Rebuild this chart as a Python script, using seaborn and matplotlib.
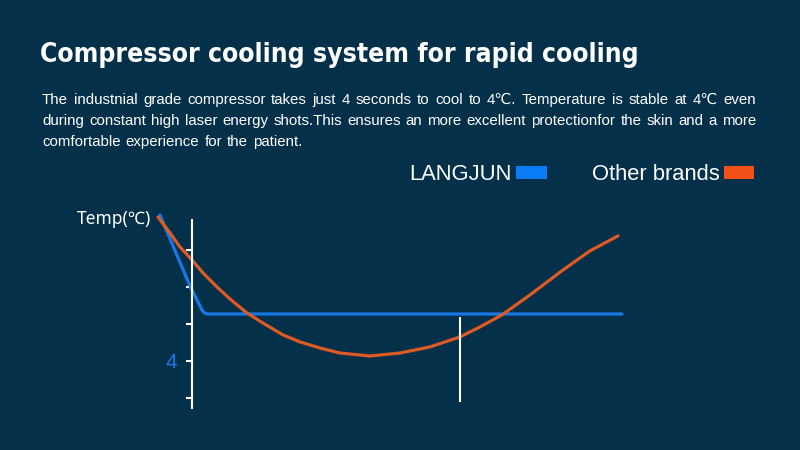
import matplotlib
matplotlib.use("Agg")
import matplotlib.pyplot as plt
from matplotlib import font_manager
from matplotlib.patches import Patch
import seaborn as sns
import pandas as pd

# chart values (time in s, temperature in degC)
blue_time = [-1.6, -0.1, 0.5, 0.6, 0.75, 21.5]
blue_temp = [11.89, 8.05, 6.76, 6.62, 6.54, 6.54]

orange_time = [-1.7, -1.1, -0.6, 0.0, 0.55, 1.25, 1.9, 2.75, 3.55, 4.55, 5.4, 6.4,
               7.4, 8.9, 10.4, 11.9, 13.4, 14.4, 15.5, 16.9, 18.55, 19.9, 21.3]
orange_temp = [11.78, 10.92, 10.16, 9.46, 8.76, 8.0, 7.35, 6.59, 6.05, 5.41, 5.03, 4.70,
               4.43, 4.27, 4.43, 4.76, 5.30, 5.84, 6.49, 7.57, 8.92, 9.95, 10.76]

temp_ticks = [2, 4, 6, 8, 10]
temp_tick_labels = ["", "4", "", "", ""]
marker_time = 13.4
marker_range = [1.78, 6.38]

series_names = ["LANGJUN", "Other brands"]
title = "Compressor cooling system for rapid cooling"
body_lines = [
    "The industnial grade compressor takes just 4 seconds to cool to 4\u2103. Temperature is stable at 4\u2103 even",
    "during constant high laser energy shots.This ensures an more excellent protectionfor the skin and a more",
    "comfortable experience for the patient.",
]

BG = "#04304a"
BLUE = "#1878e8"
ORANGE = "#de5a24"

installed = {f.name for f in font_manager.fontManager.ttflist}
narrow = "Liberation Sans Narrow" if "Liberation Sans Narrow" in installed else "Liberation Sans"

sns.set_style("white")
plt.rcParams["font.family"] = ["Liberation Sans", "DejaVu Sans"]

W, H = 800, 450
fig = plt.figure(figsize=(8, 4.5), dpi=100, facecolor=BG)
ax = fig.add_axes([140 / W, 1 - 420 / H, 500 / W, 220 / H])
ax.set_facecolor(BG)

df = pd.concat([
    pd.DataFrame({"time": blue_time, "temp": blue_temp, "brand": series_names[0]}),
    pd.DataFrame({"time": orange_time, "temp": orange_temp, "brand": series_names[1]}),
])
sns.lineplot(data=df, x="time", y="temp", hue="brand", sort=False, estimator=None,
             palette=[BLUE, ORANGE], linewidth=2.3, legend=False, ax=ax)
for line in ax.get_lines():
    line.set_solid_joinstyle("round")
    line.set_solid_capstyle("round")
ax.vlines(marker_time, *marker_range, color="white", linewidth=1.5)

ax.set_xlim(-2.6, 22.4)
ax.set_ylim(0.81, 12.70)
for s in ["top", "right", "bottom"]:
    ax.spines[s].set_visible(False)
ax.spines["left"].set_position(("data", 0))
ax.spines["left"].set_bounds(1.46, 11.6)
ax.spines["left"].set_color("white")
ax.spines["left"].set_linewidth(1.5)
ax.set_xticks([])
ax.set_yticks(temp_ticks)
ax.set_yticklabels(temp_tick_labels)
ax.tick_params(axis="y", direction="out", length=4.5, width=1.5, color="white",
               pad=6, labelsize=15, labelcolor=BLUE, left=True)
ax.set_xlabel("")
ax.set_ylabel("")

fig.text(77 / W, 1 - 219 / H, "Temp(\u2103)", color="white", fontsize=12.5,
         ha="left", va="center", family=["Noto Sans", "DejaVu Sans"])

# title, fitted to the reference width
t = fig.text(40 / W, 1 - 62 / H, title, color="white", fontsize=20, fontweight="bold",
             ha="left", va="baseline", family=["DejaVu Sans", "Liberation Sans"],
             fontstretch="condensed")
fig.canvas.draw()
renderer = fig.canvas.get_renderer()
tw = t.get_window_extent(renderer).width
t.set_fontsize(20 * 598 / tw)


def justify(line, y, x0, x1, gap=None):
    words = line.split()
    texts = [fig.text(0, 1 - y / H, w, color="white", fontsize=10.8, va="baseline",
                      family=[narrow, "DejaVu Sans"]) for w in words]
    widths = [tx.get_window_extent(renderer).width for tx in texts]
    if gap is None:
        gap = (x1 - x0 - sum(widths)) / (len(words) - 1)
    x = x0
    for tx, w in zip(texts, widths):
        tx.set_x(x / W)
        x += w + gap
    return gap


g1 = justify(body_lines[0], 104, 42, 756)
g2 = justify(body_lines[1], 125, 42, 756)
justify(body_lines[2], 146, 42, 756, gap=g2)

handles = [Patch(facecolor="#0a7cf6", edgecolor="none"),
           Patch(facecolor="#f25018", edgecolor="none")]
fig.legend(handles, series_names, loc="center right", bbox_to_anchor=(754 / W, 1 - 175 / H),
           ncol=2, frameon=False, markerfirst=False, fontsize=15.8, labelcolor="white",
           handlelength=1.38, handleheight=0.5, handletextpad=0.2, columnspacing=2.05,
           borderpad=0, borderaxespad=0)

fig.savefig("out.png", dpi=100, facecolor=BG)
